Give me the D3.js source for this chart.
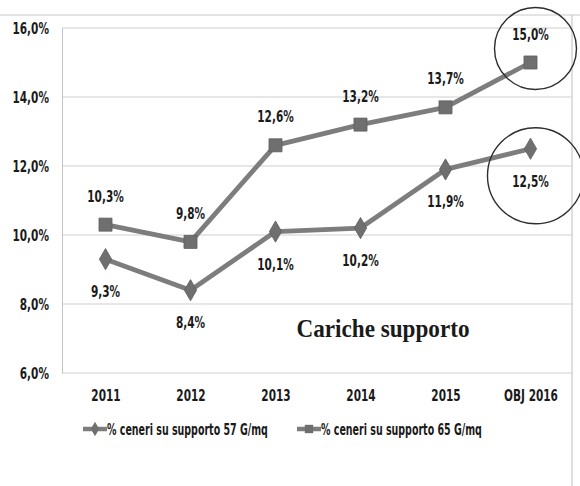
<!DOCTYPE html>
<html>
<head>
<meta charset="utf-8">
<script src="https://cdn.jsdelivr.net/npm/d3@7"></script>
<style>
  html, body { margin: 0; padding: 0; background: #fff; }
  svg { display: block; }
  .lbl { font-family: "DejaVu Sans Condensed", "DejaVu Sans", sans-serif; font-weight: bold; fill: #1a1a1a; }
</style>
</head>
<body>
<svg id="chart" width="580" height="486"></svg>
<script>
const categories = ["2011", "2012", "2013", "2014", "2015", "OBJ 2016"];
const series57 = [9.3, 8.4, 10.1, 10.2, 11.9, 12.5];
const series65 = [10.3, 9.8, 12.6, 13.2, 13.7, 15.0];
const seriesNames = ["% ceneri su supporto 57 G/mq", "% ceneri su supporto 65 G/mq"];
const yTicks = [6, 8, 10, 12, 14, 16];
const highlighted = [{ series: 1, index: 5 }, { series: 0, index: 5 }];

const svg = d3.select("#chart");
const plotLeft = 62, plotRight = 572, plotTop = 28, plotBottom = 373;

const x = d3.scalePoint().domain(categories).range([plotLeft + 1, plotRight + 1]).padding(0.5);
const y = d3.scaleLinear().domain([6, 16]).range([plotBottom, plotTop]);
const fmt = v => d3.format(".1f")(v).replace(".", ",") + "%";

// narrow the glyphs horizontally around each text's anchor point
function squeeze(sel, s) {
  sel.each(function () {
    const t = d3.select(this);
    const tx = +t.attr("x") || 0, ty = +t.attr("y") || 0;
    t.attr("x", 0).attr("y", 0)
      .attr("transform", `translate(${tx},${ty}) scale(${s},1)`);
  });
}

// outer frame lines
svg.append("line").attr("x1", 0).attr("x2", 580).attr("y1", 15).attr("y2", 15)
  .attr("stroke", "#c8c8c8").attr("stroke-width", 1);
svg.append("line").attr("x1", plotRight).attr("x2", plotRight).attr("y1", 15).attr("y2", 486)
  .attr("stroke", "#bdbdbd").attr("stroke-width", 1);

// horizontal gridlines
svg.append("g").selectAll("line").data(yTicks).join("line")
  .attr("x1", plotLeft).attr("x2", plotRight)
  .attr("y1", d => y(d)).attr("y2", d => y(d))
  .attr("stroke", "#cfcfcf").attr("stroke-width", 1);

// y axis
const yAxis = d3.axisLeft(y).tickValues(yTicks).tickFormat(d => fmt(d)).tickSize(0).tickPadding(13);
const gy = svg.append("g").attr("transform", `translate(${plotLeft},0)`).call(yAxis);
gy.select(".domain").attr("stroke", "#c4c4c4");
gy.selectAll("text").attr("class", "lbl").style("font-size", "16.5px").call(squeeze, 0.71);

// x axis labels
const xAxis = d3.axisBottom(x).tickSize(0).tickPadding(16);
const gx = svg.append("g").attr("transform", `translate(0,${plotBottom})`).call(xAxis);
gx.select(".domain").remove();
gx.selectAll("text").attr("class", "lbl").style("font-size", "16.5px").call(squeeze, 0.71);

// title inside the plot
svg.append("text").attr("x", 383).attr("y", 337).attr("text-anchor", "middle")
  .style("font-family", "'Liberation Serif', 'Times New Roman', serif")
  .style("font-weight", "bold").style("font-size", "26px").attr("fill", "#1a1a1a")
  .text("Cariche supporto").call(squeeze, 0.89);

const line = d3.line().x((d, i) => x(categories[i])).y(d => y(d));
const lineColor = "#7d7d7d", markerColor = "#6f6f6f";

function drawSeries(values, shape, labelDy) {
  const g = svg.append("g");
  g.append("path").datum(values).attr("d", line)
    .attr("fill", "none").attr("stroke", lineColor).attr("stroke-width", 4.8)
    .attr("stroke-linejoin", "round");
  const sym = shape === "square"
    ? d3.symbol().type(d3.symbolSquare).size(170)
    : d3.symbol().type(d3.symbolDiamond).size(130);
  g.selectAll("path.m").data(values).join("path").attr("class", "m")
    .attr("d", sym)
    .attr("transform", (d, i) => `translate(${x(categories[i])},${y(d)})`)
    .attr("fill", markerColor).attr("stroke", "#5e5e5e").attr("stroke-width", 0.8);
  g.selectAll("text").data(values).join("text").attr("class", "lbl")
    .attr("x", (d, i) => x(categories[i]))
    .attr("y", d => y(d) + labelDy)
    .attr("text-anchor", "middle").style("font-size", "16.5px")
    .text(d => fmt(d))
    .call(squeeze, 0.71);
}
drawSeries(series65, "square", -23);
drawSeries(series57, "diamond", 38);

// circles around the target values
const allSeries = [series57, series65];
highlighted.forEach(h => {
  const cx = x(categories[h.index]) + 5;
  const v = allSeries[h.series][h.index];
  const cy = h.series === 1 ? y(v) - 14 : y(v) + 27;
  svg.append("circle").attr("cx", cx).attr("cy", cy)
    .attr("r", h.series === 1 ? 41 : 48)
    .attr("fill", "none").attr("stroke", "#2e2e2e").attr("stroke-width", 1.4);
});

// legend
const legend = svg.append("g").attr("transform", "translate(0,429)");
const legendItems = [
  { name: seriesNames[0], shape: "diamond", x: 83 },
  { name: seriesNames[1], shape: "square", x: 297 }
];
legendItems.forEach(it => {
  const g = legend.append("g").attr("transform", `translate(${it.x},0)`);
  g.append("line").attr("x1", 0).attr("x2", 24).attr("y1", 0).attr("y2", 0)
    .attr("stroke", lineColor).attr("stroke-width", 4.5);
  const sym = it.shape === "square"
    ? d3.symbol().type(d3.symbolSquare).size(70)
    : d3.symbol().type(d3.symbolDiamond).size(60);
  g.append("path").attr("d", sym).attr("transform", "translate(12,0)")
    .attr("fill", markerColor);
  g.append("text").attr("class", "lbl").attr("x", 24).attr("y", 6)
    .style("font-size", "15.5px").text(it.name).call(squeeze, 0.68);
});
</script>
</body>
</html>
